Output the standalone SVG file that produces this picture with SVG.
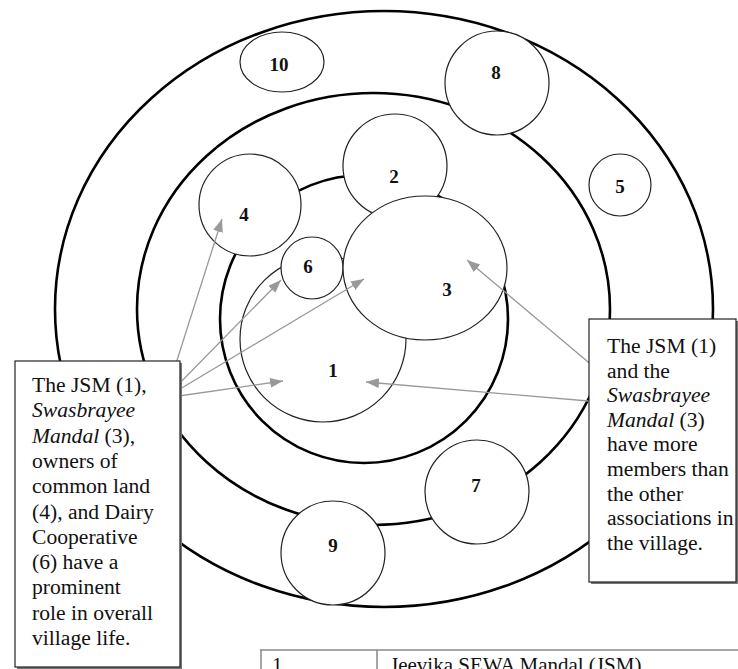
<svg xmlns="http://www.w3.org/2000/svg" width="738" height="669" viewBox="0 0 738 669">
<style>
.ring{fill:none;stroke:#000;stroke-width:2.6}
.node{fill:#fff;stroke:#222;stroke-width:1.2}
.lbl{font-family:"Liberation Serif",serif;font-size:19px;font-weight:bold;text-anchor:middle;fill:#111}
.note{font-family:"Liberation Serif",serif;font-size:21.6px;fill:#111}
.it{font-style:italic}
.arr{stroke:#999;stroke-width:1.3;fill:none;marker-end:url(#ah)}
.box{fill:#fff;stroke:#222;stroke-width:1.2}
.shadow{fill:#777}
.tbl{stroke:#888;stroke-width:1.5;fill:none}
.cell{font-family:"Liberation Serif",serif;font-size:21px;fill:#111}
</style>
<defs>
<marker id="ah" markerUnits="userSpaceOnUse" markerWidth="14" markerHeight="10" refX="13" refY="5" orient="auto">
<path d="M0,0 L13,5 L0,10 Z" fill="#999"/>
</marker>
</defs>
<rect width="738" height="669" fill="#fff"/>
<g id="rings">
<ellipse class="ring" cx="384" cy="309" rx="329" ry="298"/>
<ellipse class="ring" cx="373.5" cy="309" rx="236.5" ry="216"/>
<circle class="ring" cx="364" cy="319" r="144"/>
</g>
<g id="node1"><circle class="node" cx="323" cy="339" r="83"/><text class="lbl" x="333" y="377">1</text></g>
<g id="node2"><circle class="node" cx="395" cy="166" r="52"/><text class="lbl" x="394" y="183">2</text></g>
<g id="node6"><circle class="node" cx="312" cy="268" r="31"/><text class="lbl" x="308" y="273">6</text></g>
<g id="node3"><ellipse class="node" cx="425" cy="268" rx="82" ry="72"/><text class="lbl" x="447" y="296">3</text></g>
<g id="node4"><circle class="node" cx="250" cy="205" r="51"/><text class="lbl" x="244" y="221">4</text></g>
<g id="node10"><ellipse class="node" cx="282" cy="62" rx="42" ry="30"/><text class="lbl" x="279" y="71">10</text></g>
<g id="node8"><circle class="node" cx="497" cy="83" r="52"/><text class="lbl" x="496" y="79">8</text></g>
<g id="node5"><circle class="node" cx="620" cy="185" r="31"/><text class="lbl" x="620" y="193">5</text></g>
<g id="node7"><circle class="node" cx="477" cy="492" r="52"/><text class="lbl" x="476" y="492">7</text></g>
<g id="node9"><circle class="node" cx="333" cy="553" r="52"/><text class="lbl" x="333" y="552">9</text></g>
<g id="connectors">
<line class="arr" x1="165" y1="398" x2="222" y2="219"/>
<line class="arr" x1="165" y1="398" x2="281" y2="280"/>
<line class="arr" x1="165" y1="398" x2="364" y2="279"/>
<line class="arr" x1="165" y1="398" x2="283" y2="381"/>
<line class="arr" x1="600" y1="372" x2="467" y2="260"/>
<line class="arr" x1="600" y1="402" x2="366" y2="382"/>
</g>
<g id="note-left">
<rect class="shadow" x="17" y="363" width="165" height="306"/>
<rect class="box" x="15" y="361" width="165" height="306"/>
<text class="note" x="32" y="392">The JSM (1),</text>
<text class="note it" x="32" y="417.3">Swasbrayee</text>
<text class="note" x="32" y="442.6"><tspan class="it">Mandal</tspan> (3),</text>
<text class="note" x="32" y="467.9">owners of</text>
<text class="note" x="32" y="493.2">common land</text>
<text class="note" x="32" y="518.5">(4), and Dairy</text>
<text class="note" x="32" y="543.8">Cooperative</text>
<text class="note" x="32" y="569.1">(6) have a</text>
<text class="note" x="32" y="594.4">prominent</text>
<text class="note" x="32" y="619.7">role in overall</text>
<text class="note" x="32" y="645">village life.</text>
</g>
<g id="note-right">
<rect class="shadow" x="591" y="321" width="150" height="263"/>
<rect class="box" x="589" y="319" width="147" height="263"/>
<text class="note" x="607" y="353">The JSM (1)</text>
<text class="note" x="607" y="377.6">and the</text>
<text class="note it" x="607" y="402.2">Swasbrayee</text>
<text class="note" x="607" y="426.8"><tspan class="it">Mandal</tspan> (3)</text>
<text class="note" x="607" y="451.4">have more</text>
<text class="note" x="607" y="476">members than</text>
<text class="note" x="607" y="500.6">the other</text>
<text class="note" x="607" y="525.2">associations in</text>
<text class="note" x="607" y="550">the village.</text>
</g>
<g id="table">
<line class="tbl" x1="260" y1="650" x2="738" y2="650"/>
<line class="tbl" x1="261" y1="650" x2="261" y2="669"/>
<line class="tbl" x1="377" y1="650" x2="377" y2="669"/>
<text class="cell" x="272" y="672">1</text>
<text class="cell" x="390" y="672">Jeevika SEWA Mandal (JSM)</text>
</g>
</svg>
